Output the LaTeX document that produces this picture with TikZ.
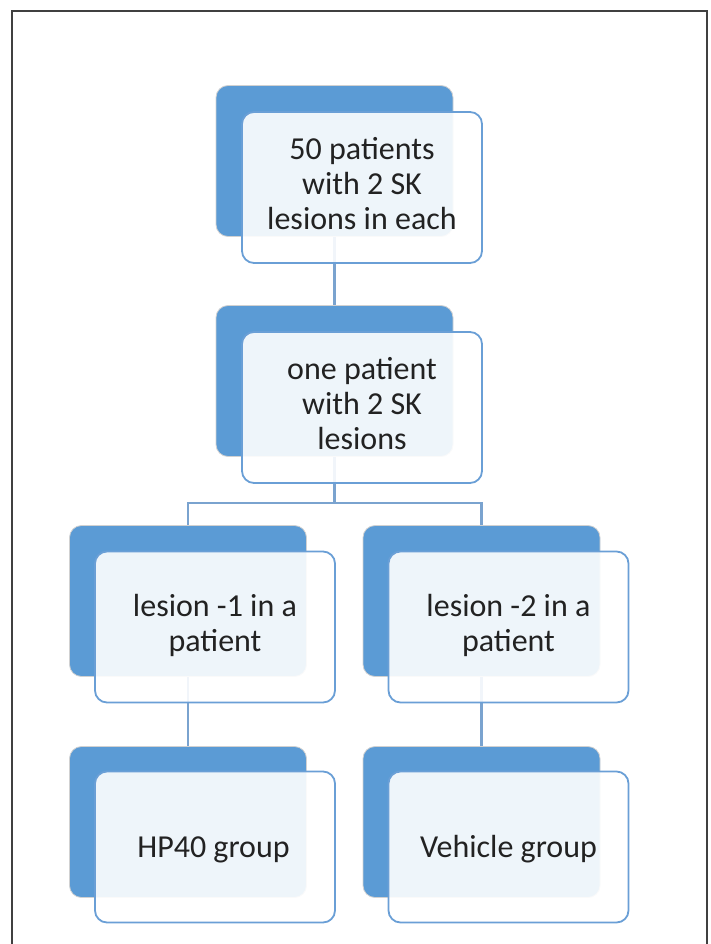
\documentclass[tikz,border=0pt]{standalone}
\usepackage{fontspec}
\setmainfont{Carlito}
\definecolor{darkbox}{HTML}{5B9BD5}
\definecolor{lightedge}{HTML}{6A9FD6}
\definecolor{linkc}{HTML}{7AA3CF}
\definecolor{txt}{HTML}{222222}
\newcommand{\boxtext}[1]{\begin{tabular}{@{}c@{}}#1\end{tabular}}
\begin{document}
\begin{tikzpicture}[x=1pt,y=-1pt,
  back/.style={rectangle, rounded corners=12pt, minimum width=237pt, minimum height=151pt,
    fill=darkbox, draw=black!18, line width=0.8pt, inner sep=0pt},
  front/.style={rectangle, rounded corners=12pt, minimum width=240pt, minimum height=151pt,
    fill=white, fill opacity=0.9, text opacity=1, draw=lightedge, line width=1.8pt,
    text=txt, align=center, inner sep=0pt,
    font=\fontsize{32}{35}\selectfont},
  link/.style={draw=linkc, line width=2.2pt}]
\useasboundingbox (0,0) rectangle (710,944);
\draw[draw=black!75, line width=1.6pt] (12,950) -- (12,11) -- (707,11) -- (707,950);
% back boxes
\node[back] (d1) at (334.5,161) {};
\node[back] (d2) at (334.5,381) {};
\node[back] (d3l) at (188,601) {};
\node[back] (d3r) at (481.5,601) {};
\node[back] (d4l) at (188,822) {};
\node[back] (d4r) at (481.5,822) {};
% connectors
\coordinate (j) at (334.5,503);
\draw[link] (d1.south) -- (d2.north);
\draw[link] (d2.south) -- (j);
\draw[link] (d3l.north) |- (j) -| (d3r.north);
\draw[link] (d3l.south) -- (d4l.north);
\draw[link] (d3r.south) -- (d4r.north);
% front boxes
\node[front] (f1) at (362,187.5) {\boxtext{50 patients\\with 2 SK\\lesions in each}};
\node[front] (f2) at (362,407.5) {\boxtext{one patient\\with 2 SK\\lesions}};
\node[front] (f3l) at (215,627) {\boxtext{lesion -1 in a\\patient}};
\node[front] (f3r) at (508.5,627) {\boxtext{lesion -2 in a\\patient}};
\node[front] (f4l) at (215,847) {\boxtext{\rule{0pt}{31pt}\hspace*{-3pt}HP40 group}};
\node[front] (f4r) at (508.5,847) {\boxtext{\rule{0pt}{31pt}Vehicle group}};
\end{tikzpicture}
\end{document}
